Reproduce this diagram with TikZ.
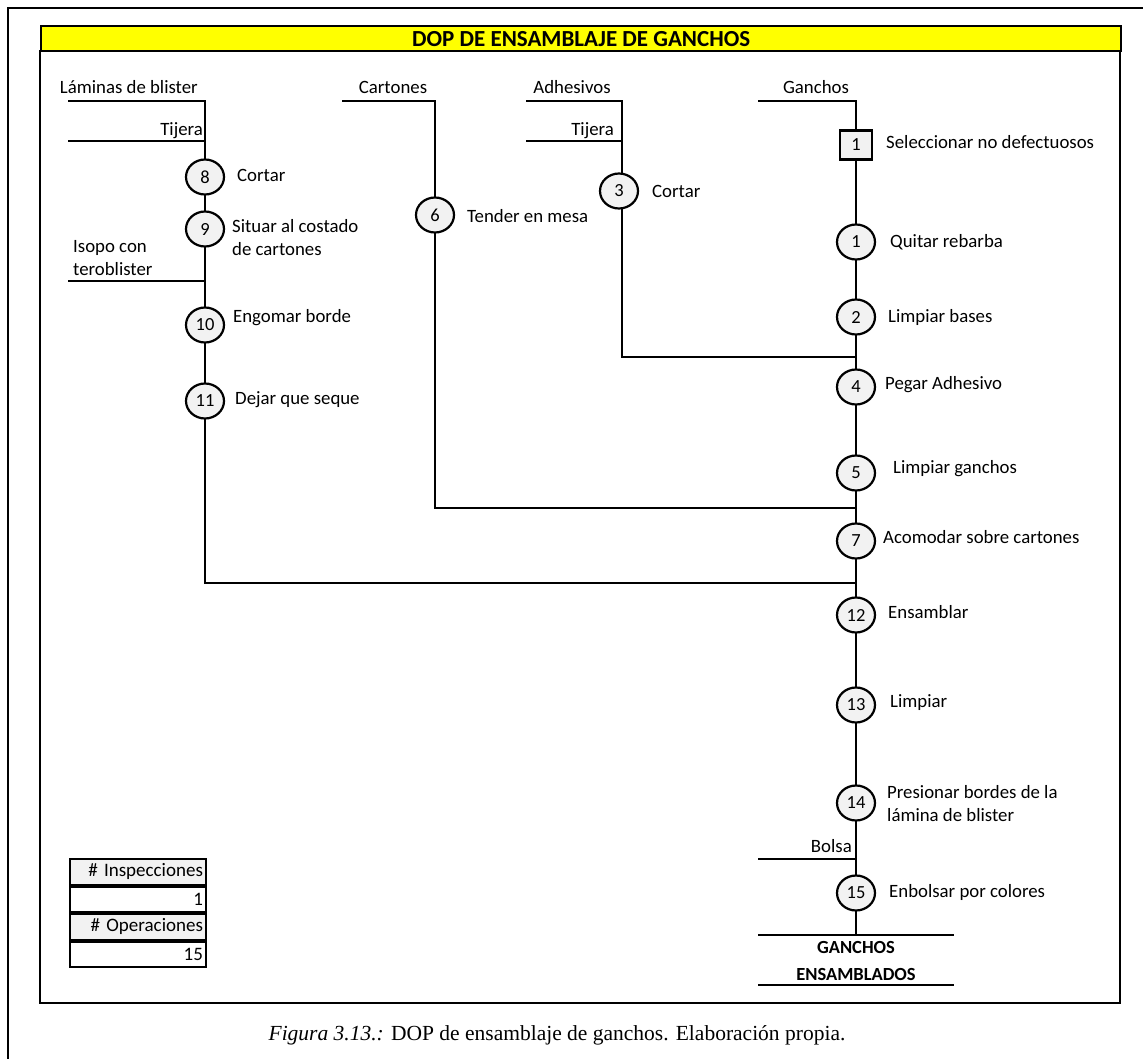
\documentclass[tikz,border=0pt]{standalone}
\usepackage{fontspec}
\setmainfont{Carlito}
\newfontfamily\capfont{Liberation Serif}
\usetikzlibrary{shapes.geometric}
\definecolor{opfill}{HTML}{F2F2F2}
\definecolor{titleyellow}{HTML}{FFFF00}
\tikzset{
  ln/.style={line width=2.4pt, line cap=rect},
  frame/.style={line width=2.4pt},
  op/.style={ellipse, draw, line width=2.2pt, fill=opfill, minimum width=38pt, minimum height=35pt, inner sep=0pt, font=\fontsize{18.5}{20}\selectfont},
  insp/.style={rectangle, draw, line width=2.2pt, fill=opfill, minimum width=32pt, minimum height=29pt, inner sep=0pt, font=\fontsize{18.5}{20}\selectfont},
  lbl/.style={inner sep=0pt, font=\fontsize{18.8}{22}\selectfont, text height=12.5pt, text depth=4pt},
  mlbl/.style={inner sep=0pt, font=\fontsize{18.8}{23}\selectfont, align=left},
  tcell/.style={draw, line width=2pt, minimum height=25.5pt, text width=130pt, inner xsep=3pt, inner ysep=0pt, align=right, font=\fontsize{19}{20}\selectfont}
}
\begin{document}
\begin{tikzpicture}[x=1pt,y=-1pt]
\useasboundingbox (0,0) rectangle (1143,1059);
% outer frame
\draw[frame] (8,1062) -- (8,8) -- (1146,8);
% inner frame and title
\draw[frame] (40,50) -- (40,1003) -- (1120,1003) -- (1120,50);
\node[draw, line width=2.4pt, fill=titleyellow, minimum width=1080pt, minimum height=25pt, inner sep=0pt, anchor=north west, font=\fontsize{23}{24}\selectfont\bfseries] (title) at (40,25) {DOP DE ENSAMBLAJE DE GANCHOS};

% ---------- left column (Laminas de blister) ----------
\coordinate (lbA) at (69,101); \coordinate (lbB) at (205,101);
\coordinate (tjA) at (69,141); \coordinate (tjB) at (205,141);
\coordinate (isA) at (69,281); \coordinate (isB) at (205,281);
\coordinate (lc) at (205,583);
\node[lbl, anchor=east] (llb) at (198,89) {Láminas de blister};
\node[lbl, anchor=east] (ltj1) at (203,131) {Tijera};
\node[mlbl, anchor=west] (lis) at (73,258) {Isopo con\\teroblister};
\node[op] (o8) at (205,177) {8};
\node[op] (o9) at (205,229) {9};
\node[op] (o10) at (205,325) {10};
\node[op] (o11) at (205,401) {11};
\node[lbl, anchor=west] (t8) at (237,177) {Cortar};
\node[mlbl, anchor=west] (t9) at (232,238) {Situar al costado\\de cartones};
\node[lbl, anchor=west] (t10) at (233,318) {Engomar borde};
\node[lbl, anchor=west] (t11) at (235,400) {Dejar que seque};

% ---------- Cartones ----------
\coordinate (caA) at (343,101); \coordinate (caB) at (435,101);
\coordinate (cc) at (435,508);
\node[lbl] (lca) at (393,89) {Cartones};
\node[op] (o6) at (435,215) {6};
\node[lbl, anchor=west] (t6) at (467,218) {Tender en mesa};

% ---------- Adhesivos ----------
\coordinate (adA) at (527,101); \coordinate (adB) at (622,101);
\coordinate (tj2A) at (527,141); \coordinate (tj2B) at (622,141);
\coordinate (ac) at (622,357);
\node[lbl] (lad) at (572,89) {Adhesivos};
\node[lbl, anchor=east] (ltj2) at (614,131) {Tijera};
\node[op] (o3) at (619,191) {3};
\node[lbl, anchor=west] (t3) at (652,193) {Cortar};

% ---------- Ganchos (main line) ----------
\coordinate (gA) at (759,101); \coordinate (gB) at (856,101);
\coordinate (j1) at (856,357);
\coordinate (j2) at (856,508);
\coordinate (j3) at (856,583);
\coordinate (boA) at (759,859); \coordinate (boB) at (856,859);
\coordinate (gend) at (856,935);
\coordinate (e1A) at (759,935); \coordinate (e1B) at (953,935);
\coordinate (e2A) at (759,985); \coordinate (e2B) at (953,985);
\node[lbl] (lga) at (816,89) {Ganchos};
\node[insp] (i1) at (856,145) {1};
\node[op] (q1) at (856,242) {1};
\node[op] (q2) at (856,317) {2};
\node[op] (q4) at (856,387) {4};
\node[op] (q5) at (856,473) {5};
\node[op] (q7) at (856,541) {7};
\node[op] (q12) at (856,615) {12};
\node[op] (q13) at (856,705) {13};
\node[op] (q14) at (856,803) {14};
\node[op] (q15) at (856,893) {15};
\node[lbl, anchor=west] (ti1) at (886,144) {Seleccionar no defectuosos};
\node[lbl, anchor=west] (tq1) at (890,243) {Quitar rebarba};
\node[lbl, anchor=west] (tq2) at (888,318) {Limpiar bases};
\node[lbl, anchor=west] (tq4) at (885,385) {Pegar Adhesivo};
\node[lbl, anchor=west] (tq5) at (893,469) {Limpiar ganchos};
\node[lbl, anchor=west] (tq7) at (883,539) {Acomodar sobre cartones};
\node[lbl, anchor=west] (tq12) at (888,614) {Ensamblar};
\node[lbl, anchor=west] (tq13) at (890,703) {Limpiar};
\node[mlbl, anchor=west] (tq14) at (887,804) {Presionar bordes de la\\lámina de blister};
\node[lbl, anchor=east] (lbo) at (852,848) {Bolsa};
\node[lbl, anchor=west] (tq15) at (889,893) {Enbolsar por colores};
\node[inner sep=0pt, align=center, font=\fontsize{18.5}{27}\selectfont\bfseries] (fin) at (856,961) {GANCHOS\\ENSAMBLADOS};

% ---------- connectors ----------
\draw[ln] (lbA) -- (lbB) -- (o8) -- (o9) -- (o10) -- (o11) -- (lc) -- (j3);
\draw[ln] (tjA) -- (tjB);
\draw[ln] (isA) -- (isB);
\draw[ln] (caA) -- (caB) -- (o6) -- (cc) -- (j2);
\draw[ln] (adA) -- (adB) -- (o3.north -| adB);
\draw[ln] (o3.south -| adB) -- (ac) -- (j1);
\draw[ln] (tj2A) -- (tj2B);
\draw[ln] (gA) -- (gB) -- (i1) -- (q1) -- (q2) -- (q4) -- (q5) -- (q7) -- (q12) -- (q13) -- (q14) -- (q15) -- (gend);
\draw[ln] (boA) -- (boB);
\draw[ln] (e1A) -- (e1B);
\draw[ln] (e2A) -- (e2B);

% ---------- summary table ----------
\node[tcell, fill=opfill, anchor=north west] (r1) at (69,858) {\# Inspecciones};
\node[tcell, anchor=north] (r2) at (r1.south) {1};
\node[tcell, fill=opfill, anchor=north] (r3) at (r2.south) {\# Operaciones};
\node[tcell, anchor=north] (r4) at (r3.south) {15};

% ---------- caption ----------
\node[inner sep=0pt, font=\capfont\fontsize{21.5}{24}\selectfont] (cap) at (557,1035) {\textit{Figura 3.13.:} DOP de ensamblaje de ganchos. Elaboración propia.};
\end{tikzpicture}
\end{document}
